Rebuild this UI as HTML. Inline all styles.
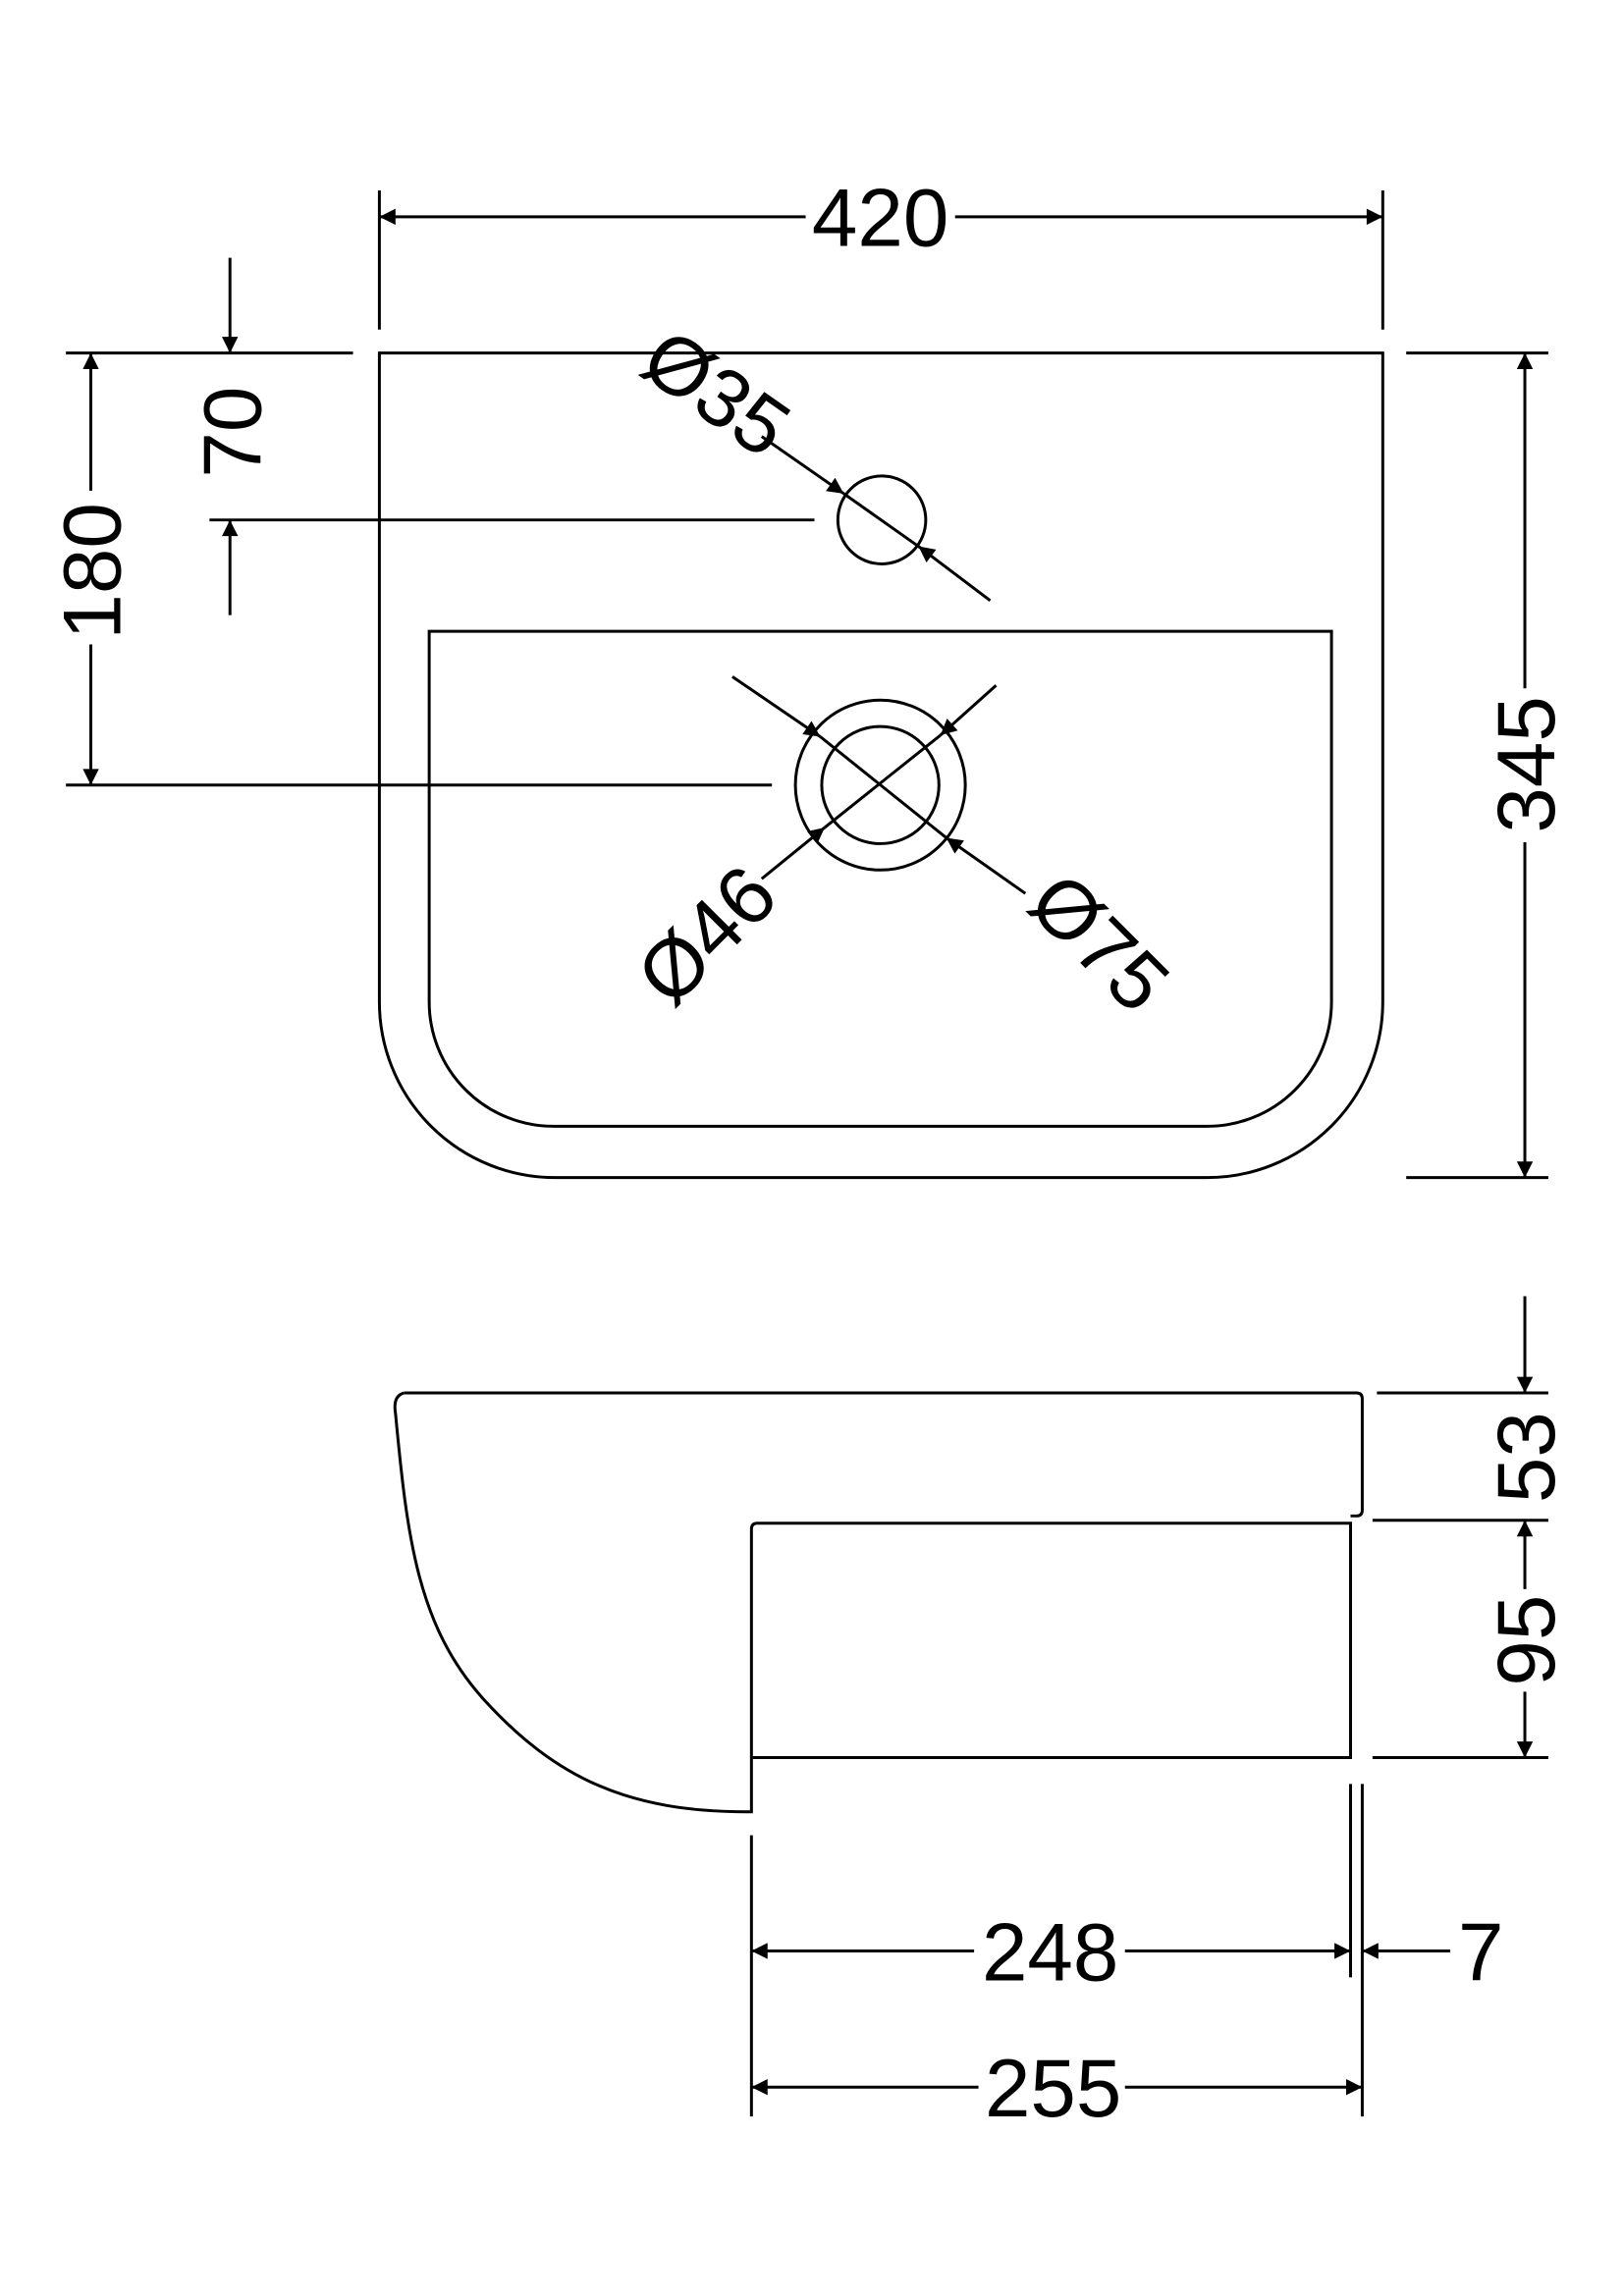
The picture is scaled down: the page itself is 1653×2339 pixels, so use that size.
<!DOCTYPE html>
<html><head><meta charset="utf-8"><style>
html,body{margin:0;padding:0;background:#fff}
svg{display:block}
text{font-family:"Liberation Sans","DejaVu Sans",sans-serif;font-size:56px;fill:#000}
</style></head><body>
<svg width="1653" height="2339" viewBox="0 0 1108 1567.6" preserveAspectRatio="none" xmlns="http://www.w3.org/2000/svg">
<defs>
<marker id="a" viewBox="0 0 10 10" refX="10" refY="5" markerWidth="32" markerHeight="11" markerUnits="userSpaceOnUse" orient="auto-start-reverse"><path d="M0,0 L10,5 L0,10 z" fill="#000"/></marker>
</defs>
<g fill="none" stroke="#000" stroke-width="2">
<path d="M259,241 H944 V684 A120,120 0 0 1 824,804 H379 A120,120 0 0 1 259,684 Z"/>
<path d="M293,431 H909 V684 A85,85 0 0 1 824,769 H378 A85,85 0 0 1 293,684 Z"/>
<circle cx="602" cy="355" r="30"/>
<circle cx="601" cy="536" r="58"/>
<circle cx="601" cy="536" r="40"/>
<line x1="259" y1="130" x2="259" y2="225"/>
<line x1="944" y1="130" x2="944" y2="225"/>
<line x1="259" y1="148" x2="550" y2="148" marker-start="url(#a)"/>
<line x1="652" y1="148" x2="944" y2="148" marker-end="url(#a)"/>
<line x1="45" y1="241" x2="241" y2="241"/>
<line x1="143" y1="355" x2="556" y2="355"/>
<line x1="45" y1="536" x2="527" y2="536"/>
<line x1="157" y1="176" x2="157" y2="241" marker-end="url(#a)"/>
<line x1="157" y1="420" x2="157" y2="355" marker-end="url(#a)"/>
<line x1="62" y1="241" x2="62" y2="335" marker-start="url(#a)"/>
<line x1="62" y1="440" x2="62" y2="536" marker-end="url(#a)"/>
<line x1="960" y1="241" x2="1057" y2="241"/>
<line x1="960" y1="804" x2="1057" y2="804"/>
<line x1="1041" y1="241" x2="1041" y2="470" marker-start="url(#a)"/>
<line x1="1041" y1="575" x2="1041" y2="804" marker-end="url(#a)"/>
<line x1="520" y1="298" x2="576" y2="337" marker-end="url(#a)"/>
<line x1="676" y1="410" x2="627" y2="373" marker-end="url(#a)"/>
<line x1="576" y1="337" x2="627" y2="373"/>
<line x1="500" y1="462" x2="560" y2="503" marker-end="url(#a)"/>
<line x1="700" y1="610" x2="646" y2="572" marker-end="url(#a)"/>
<line x1="560" y1="503" x2="646" y2="572"/>
<line x1="680" y1="468" x2="642" y2="502" marker-end="url(#a)"/>
<line x1="520" y1="600" x2="563" y2="565" marker-end="url(#a)"/>
<line x1="563" y1="565" x2="642" y2="502"/>
<path d="M276,951 H926 Q930,951 930,955 V1031 Q930,1035 926,1035 H922"/>
<path d="M276,951 Q268,953 270,965 C278,1050 285,1110 330,1160 C380,1215 430,1237 510,1237 H513 V1044 Q513,1040 517,1040 H922 V1200 H513"/>
<line x1="940" y1="951" x2="1057" y2="951"/>
<line x1="937" y1="1038" x2="1057" y2="1038"/>
<line x1="937" y1="1200" x2="1057" y2="1200"/>
<line x1="1041" y1="885" x2="1041" y2="951" marker-end="url(#a)"/>
<line x1="1041" y1="1038" x2="1041" y2="1085" marker-start="url(#a)"/>
<line x1="1041" y1="1155" x2="1041" y2="1200" marker-end="url(#a)"/>
<line x1="513" y1="1253" x2="513" y2="1445"/>
<line x1="922" y1="1218" x2="922" y2="1350"/>
<line x1="930" y1="1218" x2="930" y2="1445"/>
<line x1="513" y1="1332" x2="665" y2="1332" marker-start="url(#a)"/>
<line x1="768" y1="1332" x2="922" y2="1332" marker-end="url(#a)"/>
<line x1="990" y1="1332" x2="930" y2="1332" marker-end="url(#a)"/>
<line x1="513" y1="1425" x2="668" y2="1425" marker-start="url(#a)"/>
<line x1="768" y1="1425" x2="930" y2="1425" marker-end="url(#a)"/>
</g>
<g text-anchor="middle">
<text x="601" y="168">420</text>
<text transform="translate(178,295) rotate(-90)">70</text>
<text transform="translate(82,390) rotate(-90)">180</text>
<text transform="translate(1061,522) rotate(-90)">345</text>
<text transform="translate(478,284) rotate(35)">Ø35</text>
<text transform="translate(496,652) rotate(-45)">Ø46</text>
<text transform="translate(737,657) rotate(45)">Ø75</text>
<text transform="translate(1061,995) rotate(-90)">53</text>
<text transform="translate(1061,1120) rotate(-90)">95</text>
<text x="717" y="1352">248</text>
<text x="1011" y="1352">7</text>
<text x="719" y="1445">255</text>
</g>
</svg>
</body></html>
